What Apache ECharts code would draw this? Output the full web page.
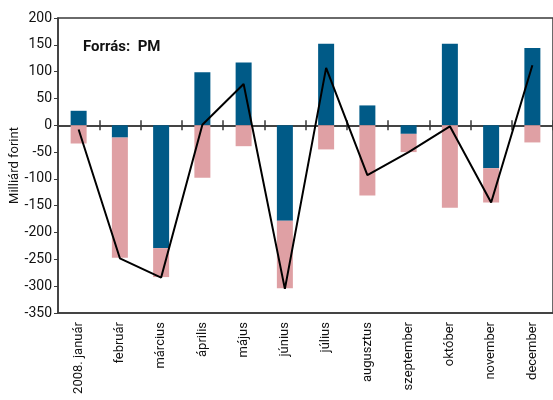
<!DOCTYPE html>
<html>
<head>
<meta charset="utf-8">
<script src="https://cdn.jsdelivr.net/npm/echarts@6/dist/echarts.min.js"></script>
<style>html,body{margin:0;padding:0;background:#fff}#c{width:553px;height:400px}</style>
</head>
<body>
<div id="c"></div>
<script>
const FONT = 'Roboto, Liberation Sans, sans-serif'
const months = ['2008. január', 'február', 'március', 'április', 'május', 'június', 'július', 'augusztus', 'szeptember', 'október', 'november', 'december']
const blue = [27, -23, -229, 99, 117, -178, 152, 37, -16, 152, -80, 144]
const pink = [-34, -224, -54, -98, -39, -126, -45, -131, -34, -154, -64, -32]
const balance = [-8, -248, -284, 1, 77, -305, 107, -93, -50, -2, -144, 112]

const AX = '#3a3a3a'
const tick = { show: true, interval: 0, length: 5, lineStyle: { color: AX, width: 1.5 } }

const chart = echarts.init(document.getElementById('c'), null, { renderer: 'canvas' })
chart.setOption({
  animation: false,
  textStyle: { fontFamily: FONT, color: '#111' },
  title: { text: 'Forrás:  PM', left: 78, top: 35, textStyle: { fontFamily: FONT, fontSize: 15, fontWeight: 'bold', color: '#111' } },
  grid: { left: 58, right: 0, top: 18, bottom: 87, outerBoundsMode: 'none',
    show: true, borderColor: AX, borderWidth: 1.5, backgroundColor: 'transparent' },
  xAxis: [
    { type: 'category', data: months, position: 'bottom', axisLine: { onZero: true, onZeroAxisIndex: 0, lineStyle: { color: AX, width: 1.5 } }, axisTick: tick,
      axisLabel: { show: false } },
    { type: 'category', data: months, position: 'top', axisLine: { onZero: true, onZeroAxisIndex: 1, lineStyle: { color: AX, width: 1.5 } }, axisTick: tick,
      axisLabel: { show: false } },
    { type: 'category', data: months, position: 'bottom', axisLine: { onZero: false, lineStyle: { color: AX, width: 1.5 } }, axisTick: { show: false },
      axisLabel: { rotate: 90, margin: 9, fontSize: 13, color: '#111', fontFamily: FONT, interval: 0 } },
  ],
  yAxis: [
    {
      type: 'value', min: -350, max: 200, interval: 50,
      name: 'Milliárd forint', nameLocation: 'middle', nameGap: 37, nameMoveOverlap: false,
      nameTextStyle: { fontSize: 13, color: '#111', fontFamily: FONT },
      axisLine: { show: true, lineStyle: { color: AX, width: 1.5 } }, axisTick: { show: true, length: 4, lineStyle: { color: AX } },
      axisLabel: { fontSize: 14, color: '#111', fontFamily: FONT, margin: 6 }, splitLine: { show: false },
    },
    { type: 'value', min: -350, max: 200, interval: 50, position: 'right',
      axisLine: { show: false }, axisTick: { show: false }, axisLabel: { show: false }, splitLine: { show: false } },
  ],
  series: [
    { type: 'bar', stack: 'a', data: blue, barWidth: 16, itemStyle: { color: '#005a87' } },
    { type: 'bar', stack: 'a', data: pink, barWidth: 16, itemStyle: { color: '#dfa0a4' } },
    { type: 'line', data: balance, symbol: 'none', lineStyle: { color: '#000', width: 2 }, z: 5 },
  ],
})
</script>
</body>
</html>
